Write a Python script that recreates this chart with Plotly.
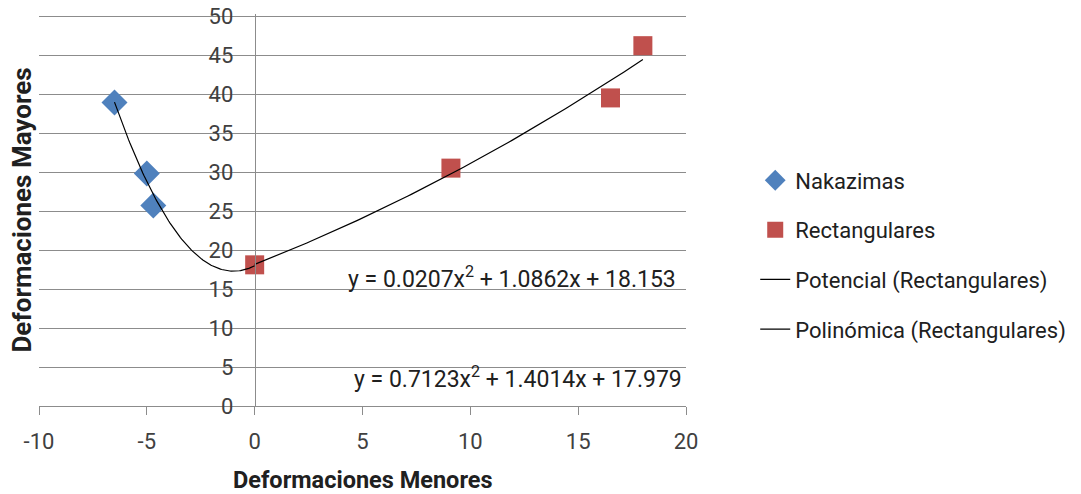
import numpy as np
import plotly.graph_objects as go

# Data
nak_x = [-6.5, -5.0, -4.7]
nak_y = [38.9, 29.8, 25.7]
rect_x = [0.0, 9.1, 16.5, 18.0]
rect_y = [18.1, 30.5, 39.5, 46.2]

# Trendline coefficients (as displayed on the chart)
pot_coef = [0.0207, 1.0862, 18.153]   # y = a x^2 + b x + c
pol_coef = [0.7123, 1.4014, 17.979]
pot_range = [0.0, 18.0]
pol_range = [-6.5, 0.0]

x_ticks = [-10, -5, 0, 5, 10, 15, 20]
y_ticks = [0, 5, 10, 15, 20, 25, 30, 35, 40, 45, 50]

FONT = "Roboto, 'Open Sans', sans-serif"
GRID = "#8c8c8c"

px_ = np.linspace(pot_range[0], pot_range[1], 120)
py_ = np.polyval(pot_coef, px_)
qx_ = np.linspace(pol_range[0], pol_range[1], 120)
qy_ = np.polyval(pol_coef, qx_)

fig = go.Figure()
fig.add_trace(go.Scatter(x=nak_x, y=nak_y, mode="markers", name="Nakazimas",
                         legendgroup="a",
                         marker=dict(symbol="diamond", size=20, color="#4F81BD")))
fig.add_trace(go.Scatter(x=rect_x, y=rect_y, mode="markers", name="Rectangulares",
                         legendgroup="b",
                         marker=dict(symbol="square", size=19, color="#C0504D")))
fig.add_trace(go.Scatter(x=list(px_), y=list(py_), mode="lines", name="Potencial (Rectangulares)",
                         legendgroup="c",
                         line=dict(color="black", width=1.2)))
fig.add_trace(go.Scatter(x=list(qx_), y=list(qy_), mode="lines", name="Polinómica (Rectangulares)",
                         legendgroup="d",
                         line=dict(color="black", width=1.2)))

Y_TOP = 50.26
fig.update_layout(
    width=1081, height=494,
    margin=dict(l=39, r=395, t=14, b=88, autoexpand=False),
    paper_bgcolor="white", plot_bgcolor="white",
    font=dict(family=FONT, size=21, color="#404040"),
    showlegend=True,
    legend=dict(x=1.107, y=0.629, xanchor="left", yanchor="top",
                font=dict(family=FONT, size=22, color="#202020"),
                tracegroupgap=18,
                bgcolor="rgba(0,0,0,0)"),
    xaxis=dict(range=[-10, 20], tickvals=x_ticks, ticktext=[str(v) for v in x_ticks],
               showgrid=False, zeroline=False, showline=True, linecolor=GRID, linewidth=1,
               ticks="outside", ticklen=8, tickcolor=GRID, ticklabelstandoff=8,
               tickfont=dict(size=22, color="#404040")),
    yaxis=dict(range=[0, Y_TOP], tickvals=y_ticks, ticktext=[str(v) for v in y_ticks],
               anchor="free", position=1/3,
               showgrid=True, gridcolor=GRID, gridwidth=1,
               zeroline=False, showline=True, linecolor=GRID, linewidth=1,
               ticks="", ticklabelstandoff=17, ticklabeloverflow="allow",
               tickfont=dict(size=22, color="#404040")),
    annotations=[
        dict(text="<b>Deformaciones Menores</b>", xref="paper", yref="paper",
             x=0.5, y=-0.19, yanchor="middle", xanchor="center", showarrow=False,
             font=dict(size=23.5, color="#202020", family=FONT)),
        dict(text="<b>Deformaciones Mayores</b>", xref="paper", yref="paper",
             x=-0.027, y=0.5, textangle=-90, xanchor="center", yanchor="middle",
             showarrow=False, font=dict(size=26, color="#202020", family=FONT)),
        dict(text="y = 0.0207x<sup>2</sup> + 1.0862x + 18.153", xref="x", yref="y",
             x=11.95, y=16.5, showarrow=False,
             font=dict(size=23, color="#202020", family=FONT)),
        dict(text="y = 0.7123x<sup>2</sup> + 1.4014x + 17.979", xref="x", yref="y",
             x=12.2, y=3.7, showarrow=False,
             font=dict(size=23, color="#202020", family=FONT)),
    ],
)

# Remove the browser's default 8px body margin so the figure fills the window.
fig.write_html("out.html", config={"displayModeBar": False},
               post_script="document.body.style.margin='0';")
